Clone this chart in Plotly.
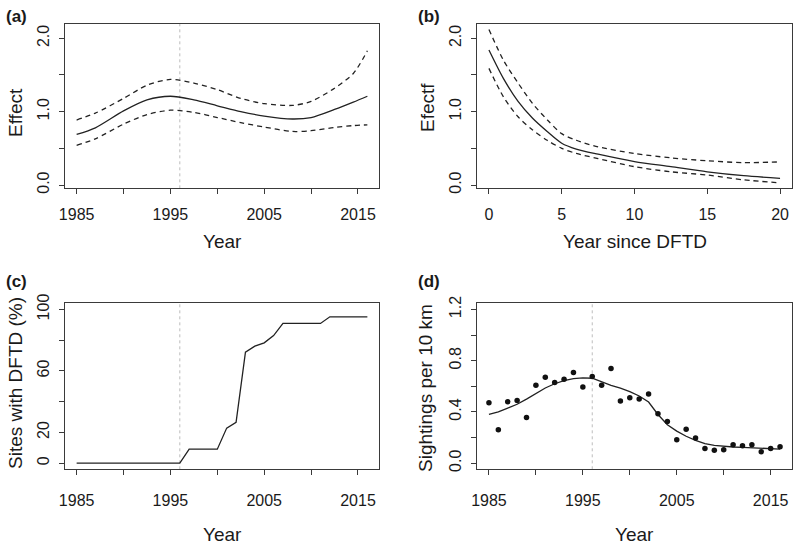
import plotly.graph_objects as go

# ---------------- data ----------------
DFTD_YEAR = 1996

# (a) year effect
a_years = [1985, 1987, 1990, 1992.5, 1995, 1997.5, 2000, 2002.5, 2005, 2008, 2010, 2012.5, 2014.5, 2016]
a_fit   = [0.69, 0.78, 1.01, 1.16, 1.21, 1.16, 1.08, 1.00, 0.94, 0.90, 0.92, 1.03, 1.13, 1.21]
a_upper = [0.886, 0.98, 1.18, 1.36, 1.44, 1.39, 1.30, 1.18, 1.11, 1.085, 1.14, 1.32, 1.52, 1.83]
a_lower = [0.54, 0.63, 0.83, 0.96, 1.02, 0.99, 0.92, 0.85, 0.79, 0.73, 0.74, 0.785, 0.81, 0.82]

# (b) effect of years since DFTD
b_x     = [0, 1, 2, 3, 4, 5, 6, 7.5, 10, 12.5, 15, 17.5, 20]
b_fit   = [1.84, 1.45, 1.14, 0.91, 0.73, 0.57, 0.49, 0.42, 0.32, 0.25, 0.18, 0.127, 0.09]
b_upper = [2.12, 1.70, 1.39, 1.11, 0.89, 0.70, 0.61, 0.52, 0.43, 0.37, 0.33, 0.305, 0.315]
b_lower = [1.59, 1.20, 0.93, 0.75, 0.61, 0.50, 0.43, 0.36, 0.25, 0.18, 0.136, 0.07, 0.03]

# (c) sites with DFTD (%)
c_years = list(range(1985, 2017))
c_pct = [0, 0, 0, 0, 0, 0, 0, 0, 0, 0, 0, 0,
         9.1, 9.1, 9.1, 9.1, 22.8, 26.5, 72.2, 76.1, 78.3, 83.0,
         90.9, 90.9, 90.9, 90.9, 90.9, 95.2, 95.2, 95.2, 95.2, 95.2]

# (d) sightings per 10 km
d_years = list(range(1985, 2017))
d_obs = [0.472, 0.26, 0.48, 0.49, 0.357, 0.608, 0.671, 0.629, 0.655, 0.708,
         0.595, 0.676, 0.608, 0.739, 0.485, 0.511, 0.50, 0.54, 0.385, 0.325,
         0.183, 0.265, 0.197, 0.115, 0.10, 0.105, 0.144, 0.136, 0.144, 0.089,
         0.115, 0.128]
d_fit = [0.38, 0.40, 0.43, 0.46, 0.50, 0.545, 0.587, 0.62, 0.645, 0.66,
         0.666, 0.663, 0.634, 0.608, 0.585, 0.558, 0.524, 0.477, 0.38, 0.30,
         0.25, 0.21, 0.178, 0.152, 0.139, 0.131, 0.126, 0.123, 0.12, 0.115,
         0.11, 0.11]

# tick labels
year_ticks = [1985, 1990, 1995, 2000, 2005, 2010, 2015]
year_ticktext = ["1985", "", "1995", "", "2005", "", "2015"]
eff_ticks = [0, 0.5, 1.0, 1.5, 2.0]
eff_ticktext = ["0.0", "", "1.0", "", "2.0"]
b_xticks = [0, 5, 10, 15, 20]
b_xticktext = ["0", "5", "10", "15", "20"]
c_yticks = [0, 20, 40, 60, 80, 100]
c_yticktext = ["0", "20", "", "60", "", "100"]
d_yticks = [0, 0.2, 0.4, 0.6, 0.8, 1.0, 1.2]
d_yticktext = ["0.0", "", "0.4", "", "0.8", "", "1.2"]

# ---------------- style ----------------
W, H = 800, 552
FONT = "Liberation Sans, Arial, sans-serif"
TXT = "#1a1a1a"
LINE = "#222222"
BOX = "#3a3a3a"
DASH = "5px,4px"

def px_dom_x(l, r):
    return [l / W, r / W]

def px_dom_y(top, bottom):
    return [1 - bottom / H, 1 - top / H]

fig = go.Figure()

def line(x, y, xa, ya, dash=None, shape="spline"):
    fig.add_trace(go.Scatter(x=x, y=y, xaxis=xa, yaxis=ya, mode="lines",
                             line=dict(color=LINE, width=1.3, dash=dash, shape=shape,
                                       smoothing=0.8),
                             showlegend=False, hoverinfo="skip"))

# (a)
line(a_years, a_fit, "x", "y")
line(a_years, a_upper, "x", "y", DASH)
line(a_years, a_lower, "x", "y", DASH)
# (b)
line(b_x, b_fit, "x2", "y2")
line(b_x, b_upper, "x2", "y2", DASH)
line(b_x, b_lower, "x2", "y2", DASH)
# (c)
line(c_years, c_pct, "x3", "y3", shape="linear")
# (d)
line(d_years, d_fit, "x4", "y4", shape="linear")
fig.add_trace(go.Scatter(x=d_years, y=d_obs, xaxis="x4", yaxis="y4", mode="markers",
                         marker=dict(color="#111111", size=5.5),
                         showlegend=False, hoverinfo="skip"))

# vertical dotted lines at DFTD arrival
for xr, yr in [("x", "y"), ("x3", "y3"), ("x4", "y4")]:
    fig.add_shape(type="line", x0=DFTD_YEAR, x1=DFTD_YEAR, y0=0, y1=1,
                  xref=xr, yref=yr + " domain",
                  line=dict(color="#bdbdbd", width=1, dash="dot"), layer="below")

axis_common = dict(showline=True, linecolor=BOX, linewidth=1.2, mirror=True,
                   ticks="outside", ticklen=5, tickwidth=1.1, tickcolor=BOX,
                   showgrid=False, zeroline=False, automargin=False,
                   tickfont=dict(family=FONT, size=16, color=TXT))

xa_top, xa_bot = 65, 379
xb_l, xb_r = 477.3, 791.7
top_t, top_b = 24, 188.3
bot_t, bot_b = 303.3, 469.3

layout = dict(
    template="none",
    width=W, height=H, margin=dict(l=0, r=0, t=0, b=0, pad=0),
    paper_bgcolor="white", plot_bgcolor="white",
    xaxis=dict(domain=px_dom_x(xa_top, xa_bot), anchor="y", range=[1983.76, 2017.24],
               tickvals=year_ticks, ticktext=year_ticktext, ticklabelstandoff=6, **axis_common),
    yaxis=dict(domain=px_dom_y(top_t, top_b), anchor="x", range=[-0.045, 2.195],
               tickvals=eff_ticks, ticktext=eff_ticktext, tickangle=-90, ticklabelstandoff=4,
               **axis_common),
    xaxis2=dict(domain=px_dom_x(xb_l, xb_r), anchor="y2", range=[-0.8, 20.8],
                tickvals=b_xticks, ticktext=b_xticktext, ticklabelstandoff=6, **axis_common),
    yaxis2=dict(domain=px_dom_y(top_t, top_b), anchor="x2", range=[-0.045, 2.195],
                tickvals=eff_ticks, ticktext=eff_ticktext, tickangle=-90, ticklabelstandoff=4,
                **axis_common),
    xaxis3=dict(domain=px_dom_x(xa_top, xa_bot), anchor="y3", range=[1983.76, 2017.24],
                tickvals=year_ticks, ticktext=year_ticktext, ticklabelstandoff=11, **axis_common),
    yaxis3=dict(domain=px_dom_y(bot_t, bot_b), anchor="x3", range=[-4, 104],
                tickvals=c_yticks, ticktext=c_yticktext, tickangle=-90, ticklabelstandoff=4,
                **axis_common),
    xaxis4=dict(domain=px_dom_x(xb_l, xb_r), anchor="y4", range=[1983.76, 2017.24],
                tickvals=year_ticks, ticktext=year_ticktext, ticklabelstandoff=11, **axis_common),
    yaxis4=dict(domain=px_dom_y(bot_t, bot_b), anchor="x4", range=[-0.048, 1.248],
                tickvals=d_yticks, ticktext=d_yticktext, tickangle=-90, ticklabelstandoff=4,
                **axis_common),
)
fig.update_layout(**layout)

def ann(text, x, y, size=19, angle=0, bold=False):
    fig.add_annotation(text=("<b>%s</b>" % text) if bold else text,
                       x=x / W, y=1 - y / H, xref="paper", yref="paper",
                       showarrow=False, textangle=angle, xanchor="center", yanchor="middle",
                       font=dict(family=FONT, size=size, color=TXT))

# axis titles
ann("Year", 222, 241)
ann("Year since DFTD", 634.5, 241)
ann("Year", 222, 534)
ann("Year", 634.5, 534)
ann("Effect", 15, 113, angle=-90)
ann("Efectf", 428, 108, angle=-90)
ann("Sites with DFTD (%)", 15, 383, angle=-90)
ann("Sightings per 10 km", 425, 388, angle=-90)
# panel labels
ann("(a)", 16, 16, size=17, bold=True)
ann("(b)", 429, 16, size=17, bold=True)
ann("(c)", 16, 281, size=17, bold=True)
ann("(d)", 429, 281, size=17, bold=True)

fig.write_html("out.html", config={"displayModeBar": False},
               post_script="document.body.style.margin='0';")
